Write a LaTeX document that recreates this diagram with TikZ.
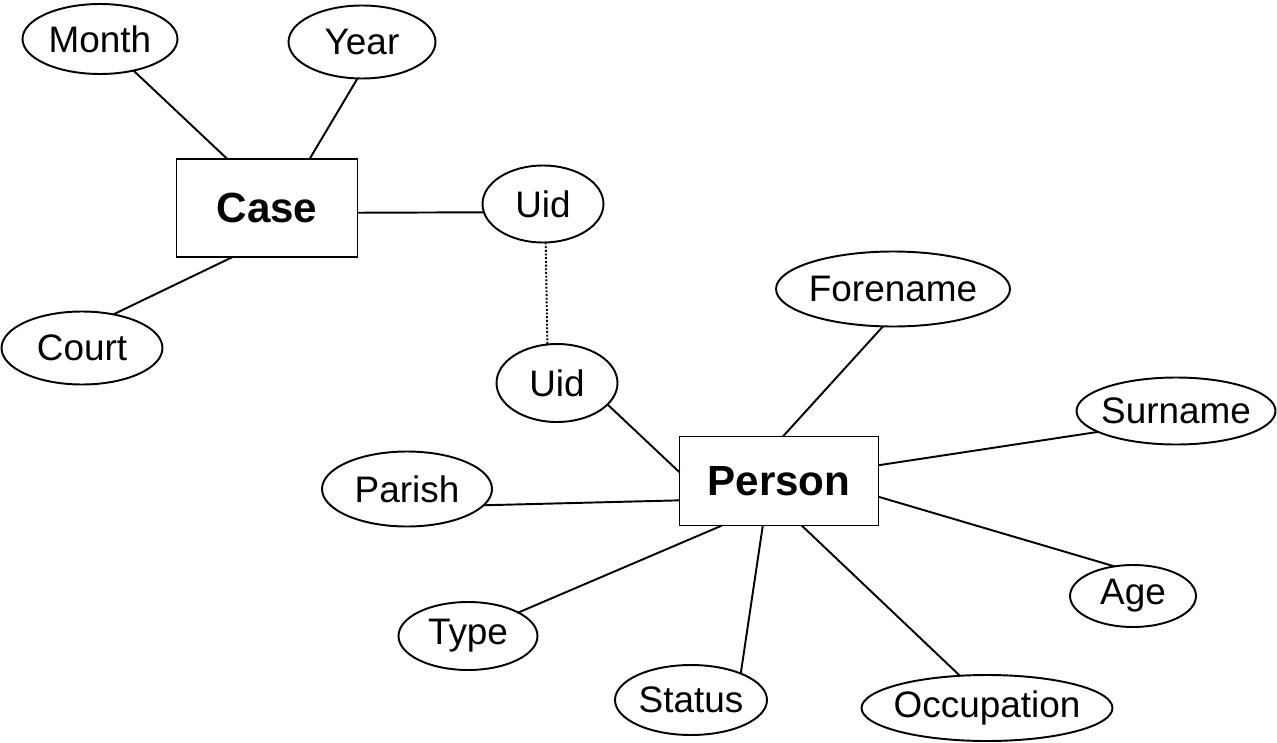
\documentclass[tikz,border=0pt]{standalone}
\usepackage{fontspec}
\setmainfont{Liberation Sans}
\usetikzlibrary{shapes.geometric}

\tikzset{
  entity/.style={draw, rectangle, line width=1.1pt, inner sep=0pt, outer sep=0pt,
    font=\fontsize{24}{28}\selectfont\bfseries},
  attr/.style={draw, ellipse, line width=1.1pt, inner xsep=-3pt, inner ysep=0pt,
    outer sep=0pt, font=\fontsize{21}{25}\selectfont},
  link/.style={line width=1.1pt}
}

\begin{document}
\begin{tikzpicture}[x=0.02cm, y=-0.02cm]
  % Fix the page size
  \useasboundingbox (0,0) rectangle (1277,743);

  % Draw entities
  \node[entity, minimum width=3.62cm, minimum height=1.96cm] (case) at (267,208) {Case};
  \node[entity, minimum width=3.98cm, minimum height=1.78cm] (person) at (779,481) {Person};

  % Draw attributes of Case
  \node[attr, minimum width=3.1cm, minimum height=1.4cm] (month) at (100,39) {Month};
  \node[attr, minimum width=2.94cm, minimum height=1.46cm] (year) at (362,42) {Year};
  \node[attr, minimum width=3.22cm, minimum height=1.46cm] (court) at (82,348) {Court};
  \node[attr, minimum width=2.42cm, minimum height=1.54cm] (uid1) at (543,204) {Uid};

  % Draw attributes of Person
  \node[attr, minimum width=2.42cm, minimum height=1.56cm] (uid2) at (557,383) {Uid};
  \node[attr, minimum width=4.68cm, minimum height=1.5cm] (forename) at (893,289) {Forename};
  \node[attr, minimum width=3.98cm, minimum height=1.34cm] (surname) at (1176,411) {Surname};
  \node[attr, minimum width=3.4cm, minimum height=1.5cm] (parish) at (407,489) {Parish};
  \node[attr, minimum width=2.52cm, minimum height=1.24cm] (age) at (1133,596) {Age};
  \node[attr, minimum width=2.78cm, minimum height=1.36cm] (type) at (468,636) {Type};
  \node[attr, minimum width=3.04cm, minimum height=1.4cm] (status) at (691,700) {Status};
  \node[attr, minimum width=5.02cm, minimum height=1.32cm] (occupation) at (987,708) {Occupation};

  % Connect Case
  \draw[link] (month) -- (case.129);
  \draw[link] (year.-97) -- (case.49);
  \draw[link] (court.47) -- (case.235);
  \draw[link] (case.-3) -- (uid1.188);

  % Key link
  \draw[line width=1.1pt, densely dotted] (uid1.-86) -- (uid2.104);

  % Connect Person
  \draw[link] (uid2.-23) -- (person.175);
  \draw[link] (forename.255) -- (person.85);
  \draw[link] (surname.195) -- (person.9);
  \draw[link] (parish.-12) -- (person.191);
  \draw[link] (type.25) -- (person.218);
  \draw[link] (status.28) -- (person.250);
  \draw[link] (occupation.130) -- (person.-63);
  \draw[link] (age.122) -- (person.-9);
\end{tikzpicture}
\end{document}
